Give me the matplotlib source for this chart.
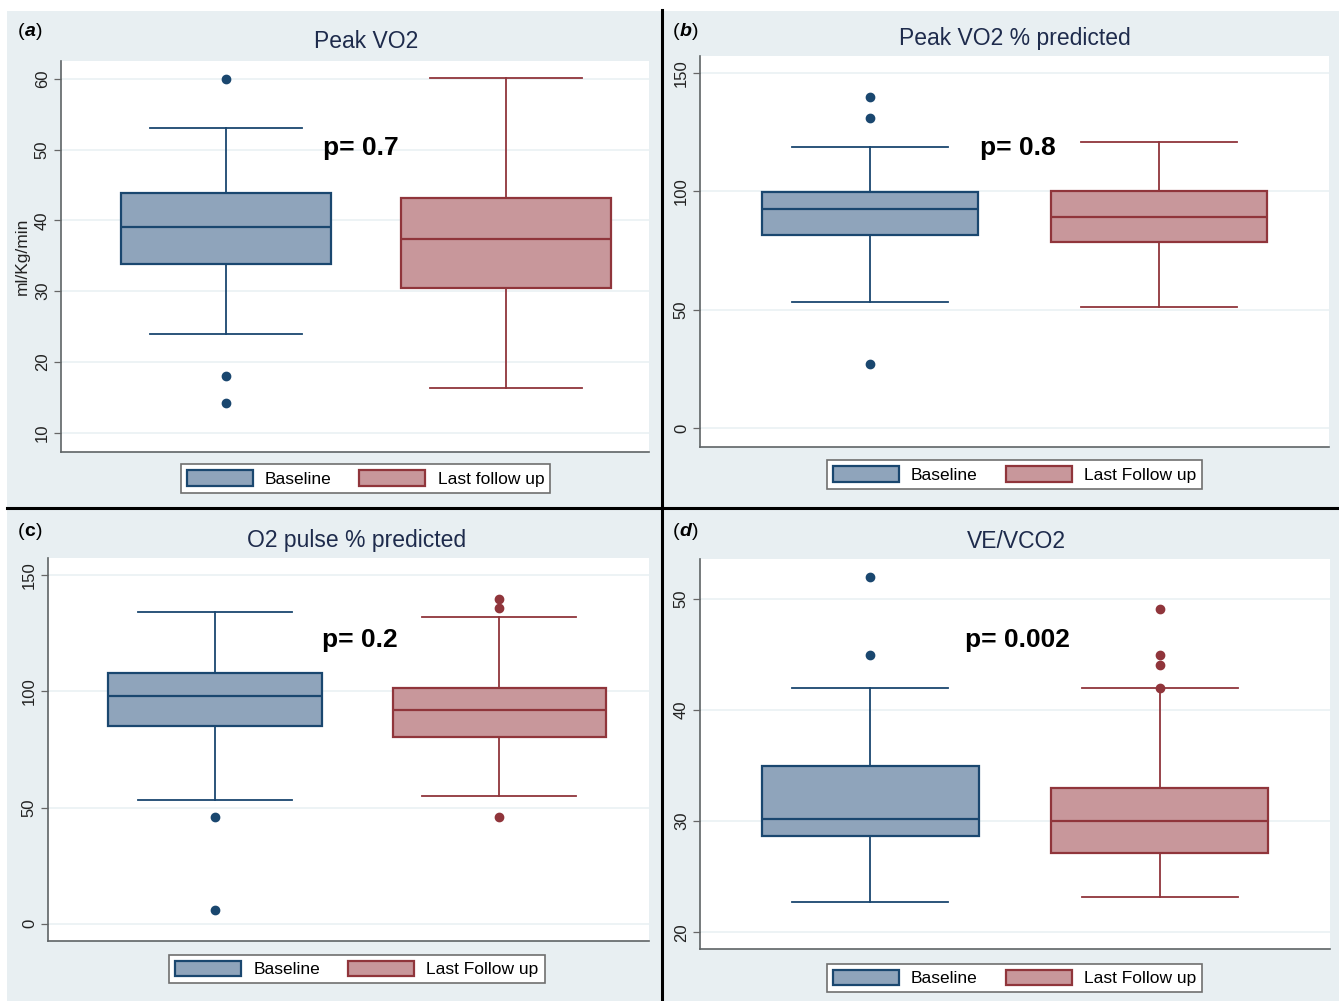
import matplotlib
matplotlib.use('Agg')
import matplotlib.pyplot as plt
import matplotlib.patches as mpatches
from matplotlib.lines import Line2D

plt.rcParams['font.family'] = ['Liberation Sans', 'DejaVu Sans']

# --- data ---
titles = ['Peak VO2', 'Peak VO2 % predicted', 'O2 pulse % predicted', 'VE/VCO2']
panel_tags = ['a', 'b', 'c', 'd']
p_labels = ['p= 0.7', 'p= 0.8', 'p= 0.2', 'p= 0.002']
group_labels = [['Baseline', 'Last follow up'], ['Baseline', 'Last Follow up'],
                ['Baseline', 'Last Follow up'], ['Baseline', 'Last Follow up']]
y_label_a = 'ml/Kg/min'

# box stats: whisker low, q1, median, q3, whisker high
peak_vo2_base = [23.9, 33.9, 39.1, 43.9, 53.1]
peak_vo2_base_out = [60.0, 18.0, 14.2]
peak_vo2_last = [16.4, 30.5, 37.4, 43.2, 60.1]
peak_vo2_last_out = []

peak_pct_base = [53.2, 81.5, 92.5, 99.7, 118.7]
peak_pct_base_out = [139.9, 131.0, 27.0]
peak_pct_last = [51.0, 78.6, 89.1, 100.0, 120.8]
peak_pct_last_out = []

o2_pulse_base = [53.3, 85.1, 98.0, 107.9, 134.1]
o2_pulse_base_out = [46.0, 6.0]
o2_pulse_last = [55.0, 80.4, 92.0, 101.4, 132.0]
o2_pulse_last_out = [139.7, 135.8, 46.0]

ve_vco2_base = [22.7, 28.65, 30.2, 35.0, 42.0]
ve_vco2_base_out = [52.0, 45.0]
ve_vco2_last = [23.2, 27.1, 30.0, 33.0, 42.0]
ve_vco2_last_out = [49.1, 45.0, 44.1, 42.0]

y_ticks = [[10, 20, 30, 40, 50, 60], [0, 50, 100, 150], [0, 50, 100, 150], [20, 30, 40, 50]]
y_limits = [(7.3, 62.5), (-8, 157.2), (-7.4, 157.3), (18.5, 53.6)]
x_limits = [(-0.589, 1.511), (-0.588, 1.588), (-0.588, 1.528), (-0.588, 1.588)]
p_pos = [(0.48, 50.2), (0.51, 118.3), (0.51, 122.0), (0.51, 46.3)]

all_stats = [
    (peak_vo2_base, peak_vo2_base_out, peak_vo2_last, peak_vo2_last_out),
    (peak_pct_base, peak_pct_base_out, peak_pct_last, peak_pct_last_out),
    (o2_pulse_base, o2_pulse_base_out, o2_pulse_last, o2_pulse_last_out),
    (ve_vco2_base, ve_vco2_base_out, ve_vco2_last, ve_vco2_last_out),
]

# --- layout (pixels of the 1339x1001 image) ---
W, H = 1339, 1001
BG = '#e8eff2'
NAVY = '#1a476f'
NAVY_FILL = '#8fa4bb'
MAROON = '#90353b'
MAROON_FILL = '#c8979b'
TITLE_COLOR = '#1e2b4c'

panel_bg = [(7, 11, 661, 507), (664, 11, 1339, 507), (7, 510, 661, 1001), (664, 510, 1339, 1001)]
axes_px = [(61, 61, 649, 452), (700, 56, 1329, 447), (48, 558, 649, 941), (700, 559, 1330, 949)]
title_px = [(366, 42), (1015, 38), (357, 541), (1016, 541)]
tag_px = [(18, 36), (673, 36), (18, 536), (673, 536)]
legend_px = [(180, 463, 551, 494), (825, 459, 1204, 490), (171, 953, 543, 985), (825, 962, 1204, 994)]


def fx(x):
    return x / W


def fy(y):
    return 1 - y / H


fig = plt.figure(figsize=(13.39, 10.01), dpi=100)
fig.patch.set_facecolor('white')

for (x0, y0, x1, y1) in panel_bg:
    fig.patches.append(mpatches.Rectangle((fx(x0), fy(y1)), fx(x1 - x0), (y1 - y0) / H,
                                          transform=fig.transFigure, facecolor=BG,
                                          edgecolor='none', zorder=-5))

# black dividing lines
fig.lines.append(Line2D([fx(662), fx(662)], [fy(10), fy(1001)], transform=fig.transFigure,
                        color='black', linewidth=2.2, zorder=5))
fig.lines.append(Line2D([fx(7), fx(1339)], [fy(508.5), fy(508.5)], transform=fig.transFigure,
                        color='black', linewidth=2.2, zorder=5))

for i in range(4):
    x0, y0, x1, y1 = axes_px[i]
    ax = fig.add_axes([fx(x0), fy(y1), (x1 - x0) / W, (y1 - y0) / H])
    ax.set_facecolor('white')

    base, base_out, last, last_out = all_stats[i]
    stats = []
    for s, out in [(base, base_out), (last, last_out)]:
        stats.append({'whislo': s[0], 'q1': s[1], 'med': s[2], 'q3': s[3], 'whishi': s[4],
                      'fliers': out})

    bp = ax.bxp(stats, positions=[0, 1], widths=0.75, capwidths=0.54, patch_artist=True,
                showfliers=True)
    for k, (edge, fill) in enumerate([(NAVY, NAVY_FILL), (MAROON, MAROON_FILL)]):
        bp['boxes'][k].set(facecolor=fill, edgecolor=edge, linewidth=1.6, zorder=3)
        bp['medians'][k].set(color=edge, linewidth=1.6, zorder=4)
        for w in bp['whiskers'][2 * k:2 * k + 2]:
            w.set(color=edge, linewidth=1.3)
        for c in bp['caps'][2 * k:2 * k + 2]:
            c.set(color=edge, linewidth=1.3)
        bp['fliers'][k].set(marker='o', markerfacecolor=edge, markeredgecolor=edge,
                            markersize=6, zorder=5)

    ax.set_xlim(*x_limits[i])
    ax.set_ylim(*y_limits[i])
    ax.set_xticks([])
    ax.set_yticks(y_ticks[i])
    ax.set_yticklabels([str(t) for t in y_ticks[i]], rotation=90, va='center', fontsize=12,
                       color='#222222')
    ax.tick_params(axis='y', length=5, width=0.9, color='#666666', pad=3)
    ax.grid(True, axis='y', color='#eaf1f3', linewidth=1.2, zorder=0)
    ax.set_axisbelow(True)
    for side in ['top', 'right']:
        ax.spines[side].set_visible(False)
    for side in ['left', 'bottom']:
        ax.spines[side].set_color('#5f6466')
        ax.spines[side].set_linewidth(1.2)

    ax.text(p_pos[i][0], p_pos[i][1], p_labels[i], ha='center', va='center',
            fontsize=19, fontweight='bold', color='black')

    if i == 0:
        ax.set_ylabel(y_label_a, fontsize=12.5, color='#222222', labelpad=4)

    # title
    fig.text(fx(title_px[i][0]), fy(title_px[i][1]), titles[i], ha='center', va='center',
             fontsize=16.5, color=TITLE_COLOR)

    # panel tag like (a) with a bold italic letter
    tx, ty = tag_px[i]
    style = 'normal' if panel_tags[i] == 'c' else 'italic'
    t1 = fig.text(fx(tx), fy(ty), '(', ha='left', va='baseline', fontsize=14, color='black')
    t2 = ax.annotate(panel_tags[i], xy=(1, 0), xycoords=t1, va='bottom', ha='left',
                     fontsize=14, fontweight='bold', fontstyle=style, annotation_clip=False)
    ax.annotate(')', xy=(1, 0), xycoords=t2, va='bottom', ha='left', fontsize=14,
                annotation_clip=False)

    # legend
    lx0, ly0, lx1, ly1 = legend_px[i]
    handles = [mpatches.Patch(facecolor=NAVY_FILL, edgecolor=NAVY, linewidth=1.6,
                              label=group_labels[i][0]),
               mpatches.Patch(facecolor=MAROON_FILL, edgecolor=MAROON, linewidth=1.6,
                              label=group_labels[i][1])]
    leg = ax.legend(handles=handles, ncol=2, loc='center',
                    bbox_to_anchor=(fx((lx0 + lx1) / 2), fy((ly0 + ly1) / 2)),
                    bbox_transform=fig.transFigure, fontsize=12.5, frameon=True,
                    fancybox=False, edgecolor='#6f6f6f', facecolor='white', framealpha=1,
                    handlelength=3.8, handleheight=1.0, handletextpad=0.7,
                    columnspacing=1.6, borderpad=0.35, borderaxespad=0)
    leg.get_frame().set_linewidth(1.2)

fig.savefig('out.png', dpi=100, facecolor='white')
